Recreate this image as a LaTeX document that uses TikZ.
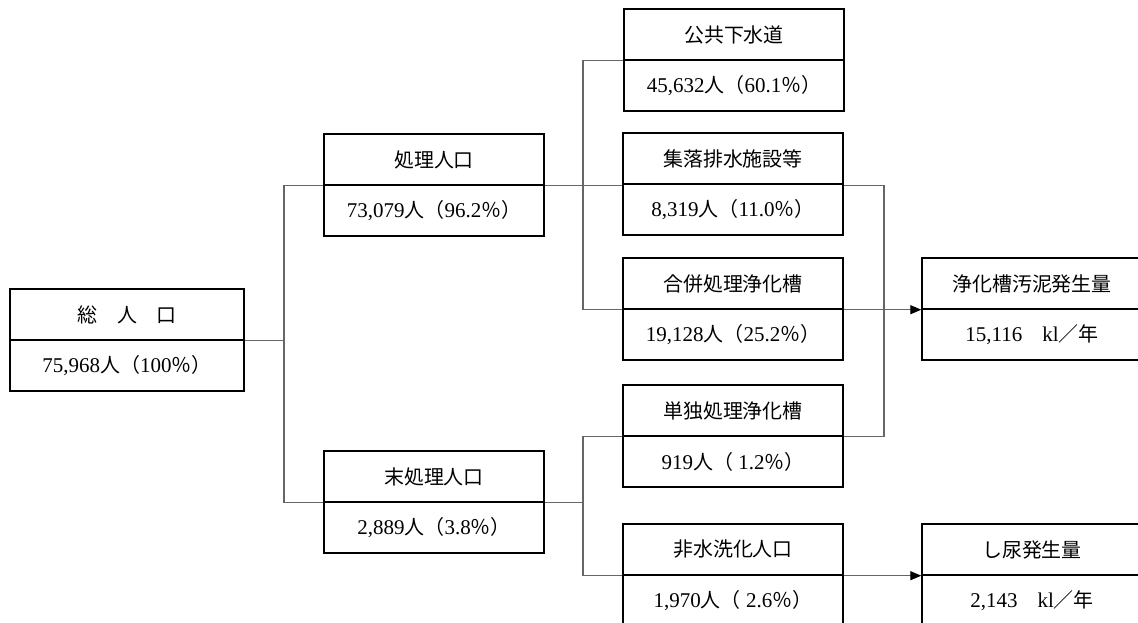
\documentclass[tikz,border=0pt]{standalone}
\usepackage{fontspec}
\newfontfamily\jp[Scale=0.95]{Noto Sans CJK JP}
\newfontfamily\numf{Liberation Serif}
\usetikzlibrary{arrows.meta}
\begin{document}
\begin{tikzpicture}[x=1pt,y=-1pt,
  ttl/.style={draw=black, line width=1.4pt, fill=white, minimum width=220pt, minimum height=51pt, inner sep=0pt, font={\fontsize{21}{25}\selectfont\jp}},
  val/.style={draw=black, line width=1.4pt, fill=white, minimum width=220pt, minimum height=51pt, inner sep=0pt, font={\fontsize{21}{25}\selectfont\numf}},
  conn/.style={draw=black!60, line width=1.2pt},
  arr/.style={conn, -{Triangle[length=11pt,width=9pt,black]}}]
\useasboundingbox (0,0) rectangle (1138,623);
\clip (0,0) rectangle (1138,623);
\fill[white] (0,0) rectangle (1138,623);
% trunk coordinates
\coordinate (tA) at (284,0);
\coordinate (tB) at (583,0);
\coordinate (tC) at (884,0);
% total box
\node[ttl, minimum width=234pt] (souT) at (127,314.5) {総　人　口};
\node[val, minimum width=234pt] (souV) at (127,365.5) {75,968{\jp 人（}100{\jp ％）}};
% anchor nodes for the other boxes
\node[ttl, draw=none, fill=none] (shoriT) at (434,159.5) {};
\node[ttl, draw=none, fill=none] (mishoriT) at (434,476.5) {};
\node[ttl, draw=none, fill=none] (kokyoT) at (734,34.5) {};
\node[ttl, draw=none, fill=none] (shurakuT) at (733,158.5) {};
\node[ttl, draw=none, fill=none] (gappeiT) at (733,283.5) {};
\node[ttl, draw=none, fill=none] (tandokuT) at (733,410.5) {};
\node[ttl, draw=none, fill=none] (hisuiT) at (733,549.5) {};
\node[ttl, draw=none, fill=none] (odeiT) at (1032,283.5) {};
\node[ttl, draw=none, fill=none] (shinyoT) at (1032,549.5) {};
% connectors
\draw[conn] (shoriT.south west) -| (tA |- souT.south east) -- (souT.south east);
\draw[conn] (mishoriT.south west) -| (tA |- souT.south east);
\draw[conn] (shoriT.south east) -- (tC |- shoriT.south east) |- (tandokuT.south east);
\draw[arr] (kokyoT.south west) -| (tB |- gappeiT.south west) -- (odeiT.south west);
\draw[conn] (mishoriT.south east) -- (tB |- mishoriT.south east);
\draw[arr] (tandokuT.south west) -| (tB |- hisuiT.south west) -- (shinyoT.south west);
% visible boxes
\node[ttl] (shoriTb) at (shoriT) {処理人口};
\node[val] (shoriV) at (434,210.5) {73,079{\jp 人（}96.2{\jp ％）}};
\node[ttl] (mishoriTb) at (mishoriT) {末処理人口};
\node[val] (mishoriV) at (434,527.5) {2,889{\jp 人（}3.8{\jp ％）}};
\node[ttl] (kokyoTb) at (kokyoT) {公共下水道};
\node[val] (kokyoV) at (734,85.5) {45,632{\jp 人（}60.1{\jp ％）}};
\node[ttl] (shurakuTb) at (shurakuT) {集落排水施設等};
\node[val] (shurakuV) at (733,209.5) {8,319{\jp 人（}11.0{\jp ％）}};
\node[ttl] (gappeiTb) at (gappeiT) {合併処理浄化槽};
\node[val] (gappeiV) at (733,334.5) {19,128{\jp 人（}25.2{\jp ％）}};
\node[ttl] (tandokuTb) at (tandokuT) {単独処理浄化槽};
\node[val] (tandokuV) at (733,461.5) {919{\jp 人（}\hspace{0.25em}1.2{\jp ％）}};
\node[ttl] (hisuiTb) at (hisuiT) {非水洗化人口};
\node[val] (hisuiV) at (733,600.5) {1,970{\jp 人（}\hspace{0.25em}2.6{\jp ％）}};
\node[ttl] (odeiTb) at (odeiT) {浄化槽汚泥発生量};
\node[val] (odeiV) at (1032,334.5) {15,116\hspace{20pt}kl{\jp ／年}};
\node[ttl] (shinyoTb) at (shinyoT) {し尿発生量};
\node[val] (shinyoV) at (1032,600.5) {2,143\hspace{20pt}kl{\jp ／年}};
\end{tikzpicture}
\end{document}
